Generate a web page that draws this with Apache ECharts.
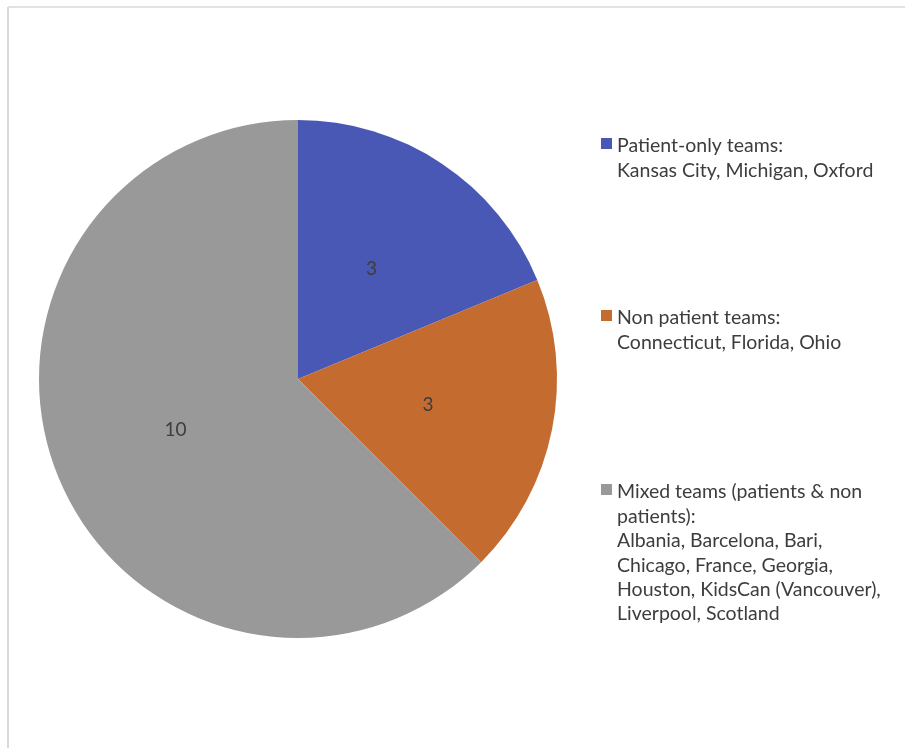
<!DOCTYPE html>
<html>
<head>
<meta charset="utf-8">
<script src="https://cdn.jsdelivr.net/npm/echarts@6/dist/echarts.min.js"></script>
<style>
  html, body { margin: 0; padding: 0; background: #ffffff; }
  #chart { width: 905px; height: 748px; }
</style>
</head>
<body>
<div id="chart"></div>
<script>
// Team types and how many teams fall into each
const categories = ['Patient-only teams:', 'Non patient teams:', 'Mixed teams (patients & non\npatients):'];
const values = [3, 3, 10];
// Team locations listed under each legend entry
const teamLines = [
  ['Kansas City, Michigan, Oxford'],
  ['Connecticut, Florida, Ohio'],
  ['Albania, Barcelona, Bari,', 'Chicago, France, Georgia,', 'Houston, KidsCan (Vancouver),', 'Liverpool, Scotland']
];
const colors = ['#4a58b5', '#c46b2f', '#999999'];

const FONT = 'Lato, "Open Sans", sans-serif';
const textColor = '#3d3d3d';
const legendTops = [134, 306, 480];
const lineH = 24.4;

const chart = echarts.init(document.getElementById('chart'), null, { renderer: 'canvas' });

// Legend entries: colour square plus heading and team list
const legendGraphics = [];
categories.forEach((name, i) => {
  const top = legendTops[i];
  legendGraphics.push({
    type: 'rect',
    shape: { x: 601, y: top + 4, width: 11, height: 11 },
    style: { fill: colors[i] },
    silent: true
  });
  legendGraphics.push({
    type: 'text',
    x: 617,
    y: top,
    silent: true,
    style: {
      text: [name].concat(teamLines[i]).join('\n'),
      font: '19.5px ' + FONT,
      fill: textColor,
      lineHeight: lineH,
      verticalAlign: 'top',
      align: 'left'
    }
  });
});

const option = {
  backgroundColor: '#ffffff',
  animation: false,
  color: colors,
  graphic: [
    { type: 'line', shape: { x1: 8, y1: 7, x2: 905, y2: 7 }, style: { stroke: '#d9d9d9', lineWidth: 1.5 }, silent: true },
    { type: 'line', shape: { x1: 8, y1: 7, x2: 8, y2: 748 }, style: { stroke: '#d9d9d9', lineWidth: 2 }, silent: true }
  ].concat(legendGraphics),
  series: [{
    type: 'pie',
    center: [298, 379],
    radius: [0, 259],
    startAngle: 90,
    clockwise: true,
    avoidLabelOverlap: false,
    label: {
      show: true,
      position: 'inside',
      formatter: '{c}',
      fontFamily: FONT,
      fontSize: 19,
      color: textColor
    },
    labelLine: { show: false },
    itemStyle: { borderWidth: 0 },
    emphasis: { disabled: true },
    data: categories.map((n, i) => ({ name: n, value: values[i] }))
  }]
};

chart.setOption(option);
</script>
</body>
</html>
